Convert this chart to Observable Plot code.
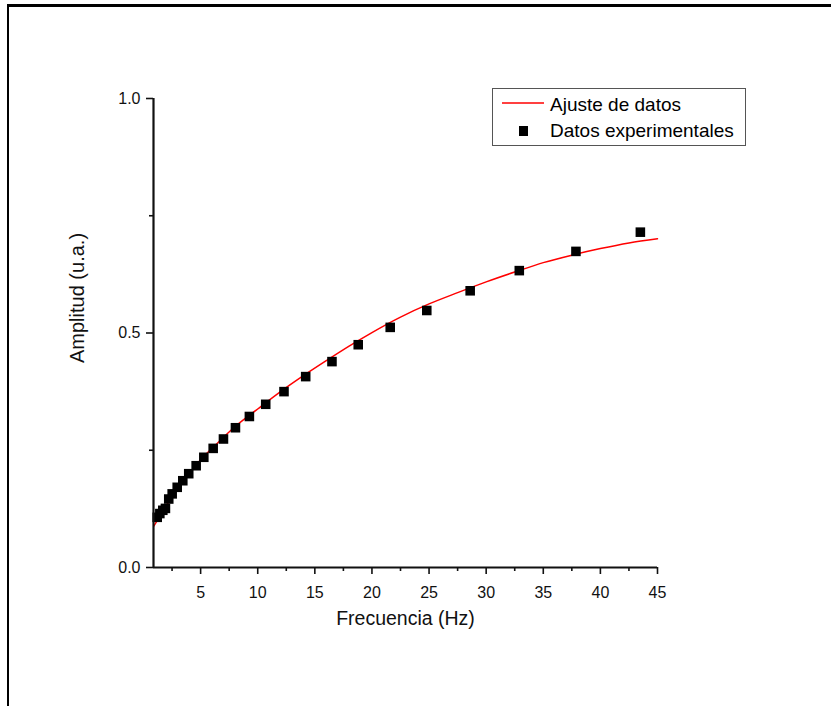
<!DOCTYPE html>
<html>
<head>
<meta charset="utf-8">
<script src="https://cdn.jsdelivr.net/npm/d3@7"></script>
<script src="https://cdn.jsdelivr.net/npm/@observablehq/plot@0.6"></script>
<style>
  html, body { margin: 0; padding: 0; background: #fff; overflow: hidden; }
  #wrap { position: relative; width: 831px; height: 706px; font-family: "Liberation Sans", Arial, sans-serif; }
  #frame { position: absolute; left: 7px; top: 4px; right: -10px; bottom: -10px; border-top: 3px solid #000; border-left: 2.5px solid #000; }
  #chart { position: absolute; left: 0; top: 0; }
  .abs { position: absolute; }
  .lg-text { font-size: 19px; line-height: 19px; color: #000; white-space: nowrap; }
</style>
</head>
<body>
<div id="wrap">
  <div id="frame"></div>
  <div id="chart"></div>
  <div class="abs" style="left:492px;top:88px;width:252px;height:56px;border:1px solid #555;background:#fff;"></div>
  <svg class="abs" style="left:500px;top:98px;" width="46" height="10"><line x1="2" y1="5" x2="44" y2="5" stroke="#ff0000" stroke-width="1.5"/></svg>
  <div class="abs lg-text" style="left:550px;top:94.6px;">Ajuste de datos</div>
  <div class="abs" style="left:518.5px;top:126px;width:9.5px;height:10px;background:#000;"></div>
  <div class="abs lg-text" style="left:550px;top:120.6px;">Datos experimentales</div>
</div>
<script>
const freq = [1.20, 1.43, 1.69, 1.92, 2.21, 2.51, 2.95, 3.44, 3.96, 4.61, 5.28, 6.10, 7.00, 8.05, 9.27, 10.7, 12.3, 14.2, 16.5, 18.8, 21.6, 24.8, 28.6, 32.9, 37.86, 43.5];
const amp  = [0.107, 0.115, 0.122, 0.126, 0.146, 0.157, 0.171, 0.185, 0.200, 0.217, 0.235, 0.254, 0.274, 0.298, 0.322, 0.348, 0.375, 0.407, 0.439, 0.475, 0.512, 0.548, 0.590, 0.633, 0.674, 0.715];

// Fitted curve
const fitX = [0.9, 1.2, 2, 3, 4, 5, 6, 8, 10, 12, 14, 16, 18, 20, 22.5, 25, 27.5, 30, 32.5, 35, 37.5, 40, 42.5, 45];
const fitY = [0.088, 0.100, 0.132, 0.168, 0.200, 0.230, 0.254, 0.300, 0.338, 0.375, 0.409, 0.441, 0.472, 0.501, 0.534, 0.562, 0.586, 0.609, 0.630, 0.650, 0.666, 0.680, 0.692, 0.701];

// Ticks
const xMajor = [5, 10, 15, 20, 25, 30, 35, 40, 45];
const xMinor = [2.5, 7.5, 12.5, 17.5, 22.5, 27.5, 32.5, 37.5, 42.5];
const yMajor = [0, 0.5, 1.0];
const yMinor = [0.25, 0.75];
const xMin = 0.875, xMax = 45;

const points = freq.map((f, i) => ({f, a: amp[i]}));
const fit = fitX.map((f, i) => ({f, a: fitY[i]}));

const chart = Plot.plot({
  width: 831,
  height: 706,
  marginLeft: 153,
  marginRight: 174,
  marginTop: 98,
  marginBottom: 139,
  x: {domain: [xMin, xMax]},
  y: {domain: [0, 1]},
  style: {fontFamily: "'Liberation Sans', Arial, sans-serif", background: "transparent", color: "#111"},
  marks: [
    Plot.line(fit, {x: "f", y: "a", stroke: "#ff0000", strokeWidth: 1.5, curve: "monotone-x"}),
    Plot.dot(points, {x: "f", y: "a", symbol: "square", r: 5.4, fill: "#000", stroke: "none"}),
    Plot.ruleY([0], {stroke: "#111", strokeWidth: 2.2}),
    Plot.ruleX([xMin], {stroke: "#111", strokeWidth: 2.2}),
    Plot.axisX(xMajor, {tickSize: 7, tickPadding: 12, fontSize: 16, strokeWidth: 1.6, stroke: "#111", tickFormat: d3.format("d"), label: null}),
    Plot.axisX(xMinor, {tickSize: 4, strokeWidth: 1.6, stroke: "#111", tickFormat: () => "", label: null}),
    Plot.axisY(yMajor, {tickSize: 7, tickPadding: 6, fontSize: 16, strokeWidth: 1.6, stroke: "#111", tickFormat: d3.format(".1f"), label: null}),
    Plot.axisY(yMinor, {tickSize: 4, strokeWidth: 1.6, stroke: "#111", tickFormat: () => "", label: null}),
    Plot.text(["Frecuencia (Hz)"], {frameAnchor: "bottom", dy: 51, fontSize: 19.5, lineAnchor: "middle", fill: "#111"}),
    Plot.text(["Amplitud (u.a.)"], {frameAnchor: "left", dx: -76, dy: 30, rotate: -90, fontSize: 20, lineAnchor: "middle", fill: "#111"})
  ]
});
document.getElementById("chart").appendChild(chart);
</script>
</body>
</html>
